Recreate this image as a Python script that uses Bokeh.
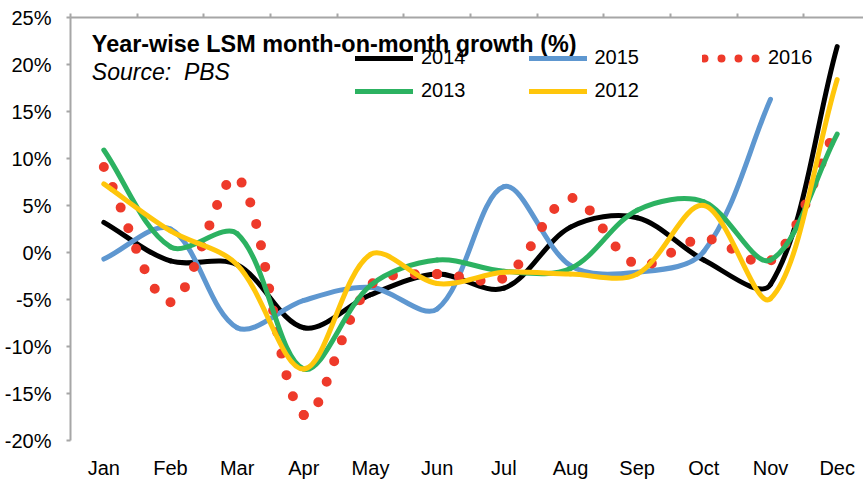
import numpy as np
from bokeh.plotting import figure
from bokeh.models import (Range1d, LinearAxis, FixedTicker, PrintfTickFormatter,
                          Label, Legend, LegendItem, ColumnDataSource)
from bokeh.embed import file_html
from bokeh.resources import INLINE

# ---------------- data ----------------
months = ["Jan", "Feb", "Mar", "Apr", "May", "Jun", "Jul", "Aug", "Sep", "Oct", "Nov", "Dec"]
y2014 = [3.2, -0.9, -1.3, -8.0, -4.5, -2.3, -3.8, 2.7, 3.7, -0.8, -3.4, 21.9]
y2015 = [-0.7, 2.5, -8.0, -5.1, -3.7, -6.0, 7.0, -1.4, -2.1, 0.1, 16.3]
y2016 = [9.1, -5.3, 8.0, -17.3, -3.5, -2.3, -2.7, 5.8, -1.3, 1.5, -0.9, 13.4]
y2013 = [10.9, 0.6, 2.0, -12.4, -3.5, -0.8, -2.0, -1.7, 4.5, 5.4, -0.8, 12.6]
y2012 = [7.3, 2.3, -1.3, -12.4, -0.2, -3.3, -2.1, -2.3, -2.3, 5.0, -4.9, 18.4]
y_ticks = [-20, -15, -10, -5, 0, 5, 10, 15, 20, 25]

FONT = "Liberation Sans"
AXIS_GREY = "#A6A6A6"

W, H = 863, 485
LEFT, TOP = 70, 17
FRAME_H = 423
px_per_cat = 800.0 / 12.0
frame_w = W - LEFT
Y0, Y1 = -20, 25
px_per_unit_y = FRAME_H / (Y1 - Y0)


def smooth_segments(vals):
    """Excel-like smoothed line: one cubic Bezier per segment, tangents scaled by
    neighbouring chord lengths (measured in screen pixels)."""
    ys = np.asarray(vals, dtype=float)
    xs = np.arange(len(ys)) + 0.5
    n = len(ys)
    pts = np.column_stack([xs, ys])
    scale = np.array([px_per_cat, px_per_unit_y])
    out_cp = np.zeros_like(pts)
    in_cp = np.zeros_like(pts)
    for i in range(n):
        pp = pts[max(i - 1, 0)]
        pn = pts[min(i + 1, n - 1)]
        d_prev = np.linalg.norm((pts[i] - pp) * scale)
        d_next = np.linalg.norm((pn - pts[i]) * scale)
        tot = d_prev + d_next
        T = pn - pp
        out_cp[i] = pts[i] + T * (d_next / tot) / 3.0
        in_cp[i] = pts[i] - T * (d_prev / tot) / 3.0
    i = np.arange(n - 1)
    return dict(x0=pts[i, 0], y0=pts[i, 1], x1=pts[i + 1, 0], y1=pts[i + 1, 1],
                cx0=out_cp[i, 0], cy0=out_cp[i, 1], cx1=in_cp[i + 1, 0], cy1=in_cp[i + 1, 1])


def seg_pixel_lengths(seg):
    t = np.linspace(0, 1, 201)[:, None]
    lens = []
    for k in range(len(seg["x0"])):
        P = [np.array([seg[a][k] * px_per_cat, seg[b][k] * px_per_unit_y])
             for a, b in (("x0", "y0"), ("cx0", "cy0"), ("cx1", "cy1"), ("x1", "y1"))]
        c = ((1 - t) ** 3) * P[0] + 3 * ((1 - t) ** 2) * t * P[1] + 3 * (1 - t) * t ** 2 * P[2] + t ** 3 * P[3]
        lens.append(float(np.sum(np.linalg.norm(np.diff(c, axis=0), axis=1))))
    return lens


p = figure(width=W, height=H, output_backend="svg", toolbar_location=None,
           x_range=Range1d(0, frame_w / px_per_cat), y_range=Range1d(Y0, Y1),
           min_border_left=LEFT, min_border_right=0, min_border_top=TOP,
           min_border_bottom=H - TOP - FRAME_H, title=None)
p.outline_line_color = None
p.xgrid.visible = False
p.ygrid.visible = False
p.background_fill_color = "white"
p.border_fill_color = "white"

# y axis
ya = p.yaxis[0]
ya.ticker = FixedTicker(ticks=y_ticks)
ya.formatter = PrintfTickFormatter(format="%d%%")
ya.axis_line_color = AXIS_GREY
ya.axis_line_width = 2
ya.major_tick_line_color = AXIS_GREY
ya.major_tick_line_width = 2
ya.major_tick_out = 4
ya.major_tick_in = 0
ya.minor_tick_line_color = None
ya.major_label_text_font = FONT
ya.major_label_text_font_size = "20px"
ya.major_label_text_color = "black"
ya.major_label_standoff = 15

# bottom axis: month labels only
xa = p.xaxis[0]
xa.ticker = FixedTicker(ticks=[i + 0.5 for i in range(len(months))])
xa.major_label_overrides = {i + 0.5: m for i, m in enumerate(months)}
xa.axis_line_color = None
xa.major_tick_line_color = None
xa.minor_tick_line_color = None
xa.major_tick_out = 0
xa.major_tick_in = 0
xa.major_label_standoff = 16
xa.major_label_text_font = FONT
xa.major_label_text_font_size = "20px"
xa.major_label_text_color = "black"

# top axis: line with category boundary ticks
top = LinearAxis(ticker=FixedTicker(ticks=list(range(len(months) + 1))),
                 major_label_overrides={i: "" for i in range(len(months) + 1)},
                 major_label_text_font_size="0px", major_label_standoff=0,
                 axis_line_color=AXIS_GREY, axis_line_width=2,
                 major_tick_line_color=AXIS_GREY, major_tick_line_width=2,
                 major_tick_out=4, major_tick_in=0, minor_tick_line_color=None)
p.add_layout(top, "above")

# series (drawing order: 2014, 2015, 2016, 2013, 2012)
series = [
    ("2014", y2014, "#000000", "solid"),
    ("2015", y2015, "#5E97D0", "solid"),
    ("2016", y2016, "#EE3A2A", "dots"),
    ("2013", y2013, "#2CB261", "solid"),
    ("2012", y2012, "#FFC60B", "solid"),
]
DOT_GAP = 22
bez_cols = dict(x0="x0", y0="y0", x1="x1", y1="y1", cx0="cx0", cy0="cy0", cx1="cx1", cy1="cy1")
legend_renderers = {}
for name, vals, color, style in series:
    seg = smooth_segments(vals)
    if style == "dots":
        # one renderer per segment so that the dot pattern runs on continuously
        lens = seg_pixel_lengths(seg)
        cum = 0.0
        for k in range(len(lens)):
            one = ColumnDataSource({key: [v[k]] for key, v in seg.items()})
            p.bezier(source=one, line_color=color, line_width=10, line_cap="round",
                     line_dash="0 %d" % DOT_GAP, line_dash_offset=int(round(cum)) % DOT_GAP,
                     **bez_cols)
            cum += lens[k]
        r = p.line(x=[np.nan], y=[np.nan], line_color=color, line_width=8, line_cap="round",
                   line_dash="0 17", line_dash_offset=15)
    else:
        p.bezier(source=ColumnDataSource(seg), line_color=color, line_width=5,
                 line_cap="round", **bez_cols)
        r = p.line(x=[np.nan], y=[np.nan], line_color=color, line_width=5, line_cap="round")
    legend_renderers[name] = r


def make_legend(names, loc):
    lg = Legend(items=[LegendItem(label=n, renderers=[legend_renderers[n]]) for n in names],
                location=loc, orientation="horizontal", padding=0, margin=0, spacing=63,
                glyph_width=58, glyph_height=20, label_standoff=8,
                label_text_font=FONT, label_text_font_size="20px", label_text_color="black",
                border_line_color=None, background_fill_alpha=0)
    p.add_layout(lg)


make_legend(["2014", "2015", "2016"], (285, 371))
make_legend(["2013", "2012"], (285, 338))

# title texts
p.add_layout(Label(x=0.32, y=22.2, text="Year-wise LSM month-on-month growth (%)",
                   text_font=FONT, text_font_style="bold", text_font_size="23.4px",
                   text_color="black", text_baseline="alphabetic"))
p.add_layout(Label(x=0.32, y=19.15, text="Source: \u00a0PBS",
                   text_font=FONT, text_font_style="italic", text_font_size="23px",
                   text_color="black", text_baseline="alphabetic"))

open("out.html", "w").write(file_html(p, INLINE))
